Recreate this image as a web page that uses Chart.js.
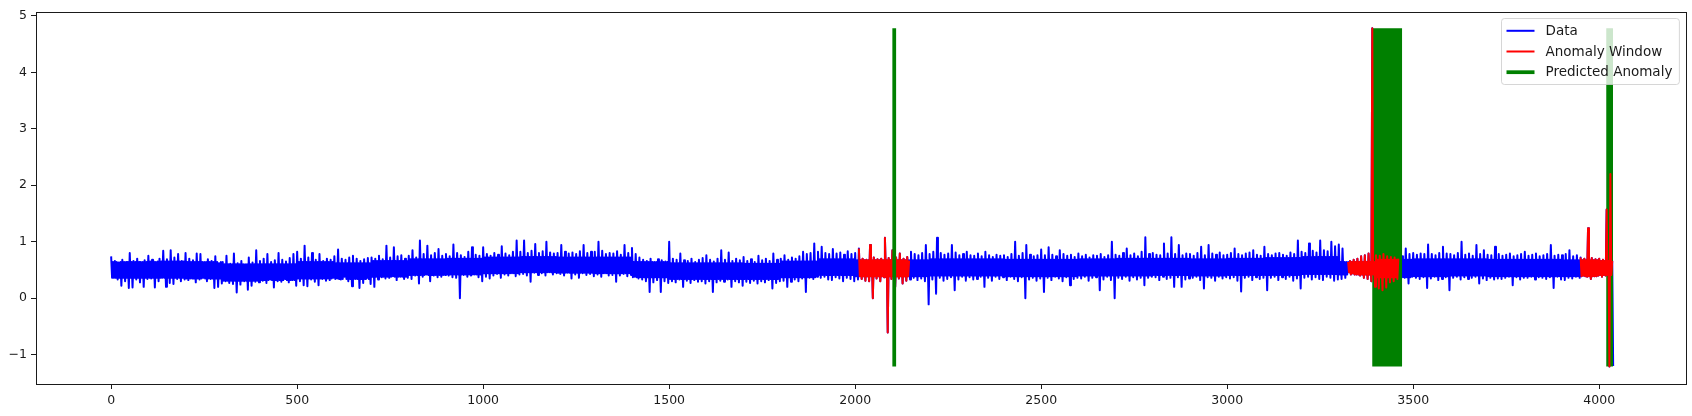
<!DOCTYPE html>
<html>
<head>
<meta charset="utf-8">
<script src="https://cdn.jsdelivr.net/npm/chart.js@4"></script>
<style>
  html, body { margin: 0; padding: 0; background: #ffffff; }
  #wrap { width: 1692px; height: 416px; position: relative; }
</style>
</head>
<body>
<div id="wrap"><canvas id="c" width="1692" height="416"></canvas></div>
<script>
// ---------------- data ----------------
const seriesNames = ['Data', 'Anomaly Window', 'Predicted Anomaly'];
const xTicks = [0, 500, 1000, 1500, 2000, 2500, 3000, 3500, 4000];
const xTickLabels = ['0', '500', '1000', '1500', '2000', '2500', '3000', '3500', '4000'];
const yTicks = [-1, 0, 1, 2, 3, 4, 5];
const yTickLabels = ['\u22121', '0', '1', '2', '3', '4', '5'];
const xRange = [-202, 4236];
const yRange = [-1.52, 5.076];

// each bin covers 10 index steps: highest and lowest value seen in the bin
const binWidth = 10;
const hiA = [0.74,0.66,0.63,0.68,0.64,0.80,0.66,0.70,0.64,0.67,
  0.75,0.68,0.64,0.70,0.84,0.69,0.85,0.72,0.78,0.66,
  0.80,0.70,0.67,0.79,0.78,0.64,0.69,0.66,0.74,0.62,
  0.64,0.75,0.61,0.79,0.62,0.66,0.60,0.72,0.63,0.85,
  0.66,0.70,0.78,0.64,0.67,0.80,0.68,0.65,0.71,0.78,
  0.82,0.70,0.93,0.72,0.80,0.68,0.78,0.66,0.70,0.68,
  0.74,0.86,0.70,0.68,0.72,0.75,0.70,0.66,0.69,0.71,
  0.72,0.70,0.75,0.69,0.93,0.72,0.90,0.74,0.76,0.70,
  0.75,0.85,0.72,1.02,0.78,0.93,0.76,0.80,0.87,0.75,
  0.78,0.74,0.95,0.80,0.76,0.73,0.82,0.90,0.77,0.75];
const loA = [0.36,0.33,0.22,0.30,0.18,0.19,0.33,0.28,0.20,0.34,
  0.35,0.19,0.30,0.36,0.20,0.27,0.25,0.34,0.30,0.33,
  0.32,0.35,0.28,0.33,0.36,0.30,0.34,0.18,0.20,0.26,
  0.30,0.27,0.25,0.10,0.24,0.30,0.15,0.22,0.29,0.28,
  0.31,0.27,0.33,0.19,0.30,0.29,0.34,0.28,0.32,0.22,
  0.30,0.23,0.21,0.33,0.29,0.23,0.34,0.31,0.32,0.36,
  0.35,0.33,0.38,0.30,0.21,0.34,0.18,0.27,0.36,0.25,
  0.20,0.33,0.37,0.35,0.36,0.39,0.32,0.38,0.34,0.36,
  0.34,0.40,0.26,0.38,0.42,0.30,0.40,0.37,0.38,0.41,
  0.40,0.37,0.36,0.00,0.41,0.38,0.40,0.42,0.37,0.30];
const hiB = [0.90,0.78,0.75,0.80,0.77,0.92,0.79,0.76,0.82,1.02,
  0.82,1.02,0.80,0.84,0.96,0.80,0.83,1.00,0.81,0.79,
  0.80,0.94,0.82,0.79,0.81,0.78,0.83,0.94,0.80,0.82,
  0.82,1.00,0.84,0.78,0.80,0.79,0.83,0.77,0.94,0.80,
  0.89,0.78,0.72,0.68,0.66,0.70,0.64,0.69,0.67,0.65,
  1.00,0.70,0.68,0.79,0.67,0.66,0.70,0.64,0.68,0.71,
  0.76,0.68,0.65,0.70,0.85,0.68,0.81,0.66,0.70,0.67,
  0.73,0.66,0.69,0.64,0.75,0.67,0.70,0.66,0.79,0.68,
  0.70,0.76,0.68,0.72,0.70,0.74,0.82,0.78,0.80,0.97,
  0.82,0.91,0.80,0.78,0.87,0.79,0.81,0.77,0.83,0.78];
const loB = [0.38,0.35,0.40,0.43,0.36,0.42,0.40,0.44,0.39,0.42,
  0.43,0.40,0.29,0.45,0.41,0.44,0.40,0.46,0.42,0.44,
  0.43,0.40,0.45,0.35,0.42,0.36,0.44,0.41,0.43,0.39,
  0.42,0.38,0.44,0.40,0.41,0.29,0.40,0.43,0.39,0.41,
  0.38,0.35,0.33,0.30,0.11,0.28,0.32,0.11,0.30,0.27,
  0.30,0.28,0.33,0.20,0.31,0.27,0.32,0.29,0.30,0.26,
  0.30,0.11,0.28,0.31,0.29,0.33,0.20,0.30,0.28,0.22,
  0.29,0.27,0.31,0.26,0.30,0.28,0.32,0.17,0.27,0.30,
  0.31,0.20,0.29,0.33,0.30,0.35,0.11,0.36,0.34,0.38,
  0.36,0.38,0.33,0.32,0.37,0.35,0.30,0.36,0.34,0.30];
const hiC = [0.80,0.88,0.70,0.68,0.94,0.72,0.69,0.70,1.07,0.71,
  0.85,0.72,0.79,0.70,0.73,0.82,0.78,0.76,0.80,0.94,
  0.78,0.82,1.07,0.80,0.77,0.79,0.94,0.81,0.76,0.78,
  0.82,0.76,0.75,0.79,0.74,0.82,0.76,0.73,0.77,0.75,
  0.76,0.73,0.78,1.00,0.75,0.80,0.94,0.77,0.74,0.76,
  0.86,0.76,0.90,0.77,0.74,0.85,0.78,0.75,0.77,0.73,
  0.79,0.74,0.77,0.72,0.76,0.75,0.78,0.73,0.76,1.00,
  0.77,0.75,0.80,0.88,0.76,0.79,0.74,0.82,1.08,0.78,
  0.80,0.77,0.76,0.97,0.79,1.08,0.78,0.94,0.76,0.79,
  0.78,0.75,0.80,0.91,0.76,0.94,0.79,0.77,0.81,0.76];
const loC = [0.33,0.34,0.31,0.30,0.00,0.35,0.30,0.37,-0.61,0.34,
  0.20,0.35,0.26,0.31,0.33,0.36,0.32,0.35,0.30,-0.11,
  0.33,0.08,0.36,0.31,0.34,0.37,0.14,0.33,0.38,0.31,
  0.37,0.33,0.34,0.38,0.20,0.36,0.31,0.38,0.34,0.37,
  0.32,0.38,0.34,0.30,0.37,0.00,0.33,0.36,0.31,0.35,
  0.11,0.36,0.32,0.38,0.35,0.30,0.37,0.23,0.34,0.36,
  0.35,0.38,0.31,0.36,0.37,0.14,0.33,0.38,0.32,0.00,
  0.36,0.34,0.38,0.31,0.37,0.33,0.36,0.23,0.36,0.38,
  0.37,0.32,0.38,0.34,0.36,0.20,0.37,0.20,0.33,0.35,
  0.36,0.38,0.32,0.17,0.37,0.36,0.31,0.38,0.35,0.37];
const hiD = [0.77,0.80,0.88,0.78,0.76,0.79,0.81,0.85,0.77,0.75,
  0.91,0.78,0.76,0.79,0.80,0.77,0.75,0.81,0.78,1.02,
  0.82,0.80,0.97,0.84,0.81,1.02,0.85,0.83,1.00,0.92,
  0.95,0.88,0.64,0.66,0.68,0.70,0.74,0.76,0.79,4.78,
  0.76,0.75,0.78,0.74,0.73,0.72,0.70,0.74,0.88,0.78,
  0.80,0.77,0.79,0.78,0.95,0.78,0.76,0.80,0.91,0.79,
  0.78,0.76,0.80,1.00,0.77,0.79,0.75,0.94,0.78,0.85,
  0.77,0.76,0.91,0.78,0.75,0.77,0.79,0.74,0.76,0.78,
  0.82,0.75,0.77,0.79,0.74,0.76,0.78,0.94,0.75,0.77,
  0.76,0.78,0.85,0.74,0.76,0.72,0.70,1.24,0.71,0.69,
  0.70,0.68,1.57,2.20];
const loD = [0.35,0.37,0.31,0.12,0.36,0.38,0.32,0.37,0.34,0.36,
  0.14,0.36,0.38,0.32,0.37,0.34,0.38,0.31,0.35,0.17,
  0.36,0.38,0.33,0.37,0.34,0.32,0.38,0.36,0.31,0.33,
  0.34,0.36,0.46,0.44,0.42,0.40,0.36,0.34,0.30,0.20,
  0.17,0.14,0.19,0.28,0.30,0.34,0.37,0.36,0.26,0.38,
  0.36,0.34,0.37,0.18,0.35,0.38,0.32,0.34,0.37,0.14,
  0.36,0.38,0.33,0.37,0.34,0.36,0.38,0.26,0.35,0.32,
  0.36,0.33,0.35,0.34,0.36,0.38,0.23,0.37,0.33,0.36,
  0.36,0.38,0.33,0.37,0.36,0.34,0.37,0.18,0.38,0.33,
  0.32,0.36,0.35,0.38,0.36,0.40,0.38,0.34,0.39,0.40,
  0.38,0.40,-1.21,-1.20];

// dense core of the noise band, one value per 100 index steps
const coreSpan = 100;
const coreHi = [0.64,0.65,0.64,0.60,0.60,0.64,0.62,0.66,0.69,0.70,
  0.72,0.73,0.72,0.72,0.64,0.62,0.62,0.61,0.65,0.69,
  0.67,0.67,0.69,0.69,0.68,0.68,0.69,0.70,0.70,0.69,
  0.70,0.71,0.73,0.64,0.68,0.69,0.69,0.68,0.68,0.67,0.66];
const coreLo = [0.36,0.36,0.35,0.31,0.32,0.35,0.34,0.38,0.41,0.42,
  0.44,0.46,0.45,0.44,0.37,0.34,0.34,0.34,0.37,0.41,
  0.39,0.39,0.40,0.40,0.39,0.39,0.40,0.40,0.41,0.40,
  0.41,0.41,0.43,0.42,0.37,0.39,0.40,0.39,0.39,0.39,0.41];

// anomaly windows (index ranges)
const windowStart = [2010, 3325, 3950];
const windowEnd = [2145, 3460, 4035];
// predicted anomaly indices (vertical lines)
const predicted = [2105, 3395, 3400, 3405, 3410, 3415, 3420, 3425, 3430, 3435,
  3440, 3445, 3450, 3455, 3460, 3465, 4024, 4028, 4032];

// ---------------- build tables ----------------
const hi = [].concat(hiA, hiB, hiC, hiD);
const lo = [].concat(loA, loB, loC, loD);
const series = [];
hi.forEach((h, k) => {
  const x0 = k * binWidth;
  const c = Math.floor(x0 / coreSpan);
  const q = binWidth / 4;
  series.push({ x: x0, y: h });
  series.push({ x: x0 + q, y: Math.min(coreLo[c], h) });
  series.push({ x: x0 + 2 * q, y: Math.max(coreHi[c], lo[k]) });
  series.push({ x: x0 + 3 * q, y: lo[k] });
});
const red = [];
windowStart.forEach((s, w) => {
  series.filter(p => p.x >= s && p.x <= windowEnd[w]).forEach(p => red.push(p));
  red.push({ x: windowEnd[w], y: null });
});
const allY = series.map(p => p.y);
const vBottom = Math.min(...allY);
const vTop = Math.max(...allY);
function vlineData(idx) {
  const out = [];
  idx.forEach(i => { out.push({ x: i, y: vBottom }, { x: i, y: vTop }, { x: i, y: null }); });
  return out;
}
const onTop = i => i <= windowEnd[0];

const colors = { 'Data': '#0000ff', 'Anomaly Window': '#ff0000', 'Predicted Anomaly': '#008000' };
const widths = { 'Data': 2, 'Anomaly Window': 2, 'Predicted Anomaly': 3.75 };
const FONT = "'DejaVu Sans', 'Liberation Sans', sans-serif";

const framePlugin = {
  id: 'mplFrame',
  afterDatasetsDraw(chart) {
    const ctx = chart.ctx, a = chart.chartArea;
    ctx.save();
    ctx.strokeStyle = '#1a1a1a';
    ctx.lineWidth = 1;
    ctx.strokeRect(Math.round(a.left) + 0.5, Math.round(a.top) + 0.5,
      Math.round(a.right - a.left) - 1, Math.round(a.bottom - a.top) - 1);
    ctx.restore();
  },
  afterDraw(chart) {
    const ctx = chart.ctx, a = chart.chartArea;
    ctx.save();
    ctx.font = '13.5px ' + FONT;
    const tw = Math.max(...seriesNames.map(n => ctx.measureText(n).width));
    const padL = 5, lineLen = 28, gap = 11, padR = 7, rowH = 20.7, padV = 12.3;
    const w = padL + lineLen + gap + tw + padR;
    const h = padV * 2 + rowH * (seriesNames.length - 1);
    const x0 = Math.round(a.right - 8 - w) + 0.5, y0 = Math.round(a.top + 6) + 0.5;
    const r = 3;
    ctx.beginPath();
    ctx.moveTo(x0 + r, y0);
    ctx.lineTo(x0 + w - r, y0); ctx.arcTo(x0 + w, y0, x0 + w, y0 + r, r);
    ctx.lineTo(x0 + w, y0 + h - r); ctx.arcTo(x0 + w, y0 + h, x0 + w - r, y0 + h, r);
    ctx.lineTo(x0 + r, y0 + h); ctx.arcTo(x0, y0 + h, x0, y0 + h - r, r);
    ctx.lineTo(x0, y0 + r); ctx.arcTo(x0, y0, x0 + r, y0, r);
    ctx.closePath();
    ctx.fillStyle = 'rgba(255,255,255,0.8)';
    ctx.fill();
    ctx.strokeStyle = 'rgba(204,204,204,0.8)';
    ctx.lineWidth = 1;
    ctx.stroke();
    seriesNames.forEach((n, k) => {
      const yy = y0 + padV + k * rowH;
      ctx.beginPath();
      ctx.strokeStyle = colors[n];
      ctx.lineWidth = widths[n];
      ctx.lineCap = 'butt';
      ctx.moveTo(x0 + padL, yy);
      ctx.lineTo(x0 + padL + lineLen, yy);
      ctx.stroke();
      ctx.fillStyle = '#1a1a1a';
      ctx.textBaseline = 'middle';
      ctx.textAlign = 'left';
      ctx.fillText(n, x0 + padL + lineLen + gap, yy + 0.5);
    });
    ctx.restore();
  }
};

const tickFont = { family: FONT, size: 12.5 };
new Chart(document.getElementById('c').getContext('2d'), {
  type: 'line',
  data: {
    datasets: [
      { label: 'Predicted Anomaly', data: vlineData(predicted.filter(onTop)), borderColor: colors['Predicted Anomaly'],
        borderWidth: widths['Predicted Anomaly'], order: 1, spanGaps: false, borderCapStyle: 'butt' },
      { label: 'Anomaly Window', data: red, borderColor: colors['Anomaly Window'],
        borderWidth: widths['Anomaly Window'], order: 2, spanGaps: false },
      { label: 'Predicted Anomaly', data: vlineData(predicted.filter(i => !onTop(i))), borderColor: colors['Predicted Anomaly'],
        borderWidth: widths['Predicted Anomaly'], order: 3, spanGaps: false, borderCapStyle: 'butt' },
      { label: 'Data', data: series, borderColor: colors['Data'],
        borderWidth: widths['Data'], order: 4 }
    ]
  },
  options: {
    responsive: false,
    animation: false,
    devicePixelRatio: 1,
    events: [],
    elements: {
      point: { radius: 0, hoverRadius: 0 },
      line: { tension: 0, fill: false, borderJoinStyle: 'round' }
    },
    plugins: { legend: { display: false }, tooltip: { enabled: false }, title: { display: false } },
    layout: { padding: { top: 11, right: 5, left: 0, bottom: 0 } },
    scales: {
      x: {
        type: 'linear', min: xRange[0], max: xRange[1],
        afterBuildTicks: s => { s.ticks = xTicks.map(v => ({ value: v })); },
        afterFit: s => { s.height = 32; },
        grid: { drawOnChartArea: false, drawTicks: true, tickLength: 5, tickColor: '#1a1a1a', tickWidth: 1 },
        border: { display: false },
        ticks: { color: '#1a1a1a', font: tickFont, padding: 4, maxRotation: 0, autoSkip: false,
          callback: (v) => xTickLabels[xTicks.indexOf(v)] }
      },
      y: {
        type: 'linear', min: yRange[0], max: yRange[1],
        afterBuildTicks: s => { s.ticks = yTicks.map(v => ({ value: v })); },
        afterFit: s => { s.width = 36; },
        grid: { drawOnChartArea: false, drawTicks: true, tickLength: 5, tickColor: '#1a1a1a', tickWidth: 1 },
        border: { display: false },
        ticks: { color: '#1a1a1a', font: tickFont, padding: 4, autoSkip: false,
          callback: (v) => yTickLabels[yTicks.indexOf(v)] }
      }
    }
  },
  plugins: [framePlugin]
});
</script>
</body>
</html>
